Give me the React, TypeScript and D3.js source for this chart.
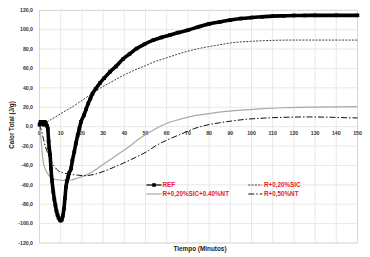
import React from "react";
import * as d3 from "d3";

const W = 370;
const H = 257;

const refX = [0,0.5,1,1.5,2,2.5,3,3.5,3.9,4.3,4.6,5,5.4,5.9,6.5,7,7.5,8,8.5,9,9.5,10,10.5,11,11.5,12,12.5,13,13.5,14,14.9,15.5,16.4,17.2,18,18.8,19.6,21,22,23,24,25,26.5,28.5,30.5,33.3,36,39.5,42.5,45.8,49.5,53.7,57.5,61.6,65.5,70,75,80,85,90,95,100,105,110,115,120,125,130,140,150];
const refY = [2,5,3,5,2,5,3,1,-2,-15,-22,-29,-43,-56,-67,-75,-81,-87,-91,-94,-96,-97,-96,-92,-85,-74,-62,-56,-52,-48,-43,-35,-26,-17,-9,-2,5,12,18,24,29,34,39,45,50,56.7,62,70,75,80.5,85,89.2,92,94.5,97,99.5,103,106,108,110,111.5,112.5,113.3,114,114.3,114.6,114.7,114.8,114.8,114.8];

const sicX = [3.5,6,9,12,14.4,20,27,35,41,50,53.7,60,66.3,75,84,90,100,110,120,150];
const sicY = [5,8,12,16,19,27,37.5,47.5,54.5,63,66.5,71,75.5,80.5,84,86.3,88,89,89.3,89.3];

const sicNtX = [0,0.5,1,1.5,2,3,4,5,7,9,11,13,15,18,22,26,30,34,38,42,47,51,57,62,67,71,80,87,95,104,115,130,150];
const sicNtY = [0,-8,-20,-32,-39,-45,-49,-51.5,-54,-55,-55.5,-55.5,-55,-53,-50,-45,-39,-33,-27,-21,-12.5,-7,0.5,5,8,10.3,13.5,15.5,17,18.3,19.5,20.2,20.6];

const ntX = [0,1,2,3,4,5.4,7,8.6,11,14,18,21,24,27,31,35,39.5,45,50.6,55,60,67.7,73,79,85,91,97,104,115,125,135,145,150];
const ntY = [2,-5,-14,-22,-28,-35,-41,-45,-47.5,-49,-50,-50.5,-50,-48.5,-45.5,-42,-37.7,-32,-25.8,-19.5,-14,-6.8,-2,1.7,4,5.9,7.5,8.6,9.6,10,9.8,9.2,9];

const xTicks = [0,10,20,30,40,50,60,70,80,90,100,110,120,130,140,150];
const yTicks = [-120,-100,-80,-60,-40,-20,0,20,40,60,80,100,120];

const legendNames = ["REF", "R+0,20%SIC+0.40%NT", "R+0,20%SIC", "R+0,50%NT"];

const x = d3.scaleLinear().domain([0, 150]).range([39.5, 357.5]);
const y = d3.scaleLinear().domain([-120, 120]).range([243, 10.3]);

const zip = (xs: number[], ys: number[]) => xs.map((v, i) => [v, ys[i]] as [number, number]);
const line = d3.line<[number, number]>().x(d => x(d[0])).y(d => y(d[1])).curve(d3.curveMonotoneX);

const FONT = "'Liberation Sans', Arial, sans-serif";

export default function App() {
  const ref = zip(refX, refY);
  const sic = zip(sicX, sicY);
  const sicNt = zip(sicNtX, sicNtY);
  const nt = zip(ntX, ntY);
  const fmt = (v: number) => v.toFixed(1).replace(".", ",");
  return (
    <svg width={W} height={H} style={{ position: "absolute", left: 0, top: 0, background: "#fff" }} fontFamily={FONT}>
      <rect x={0} y={0} width={W} height={H} fill="#fff" />
      {xTicks.map(t => (
        <line key={"gx" + t} x1={x(t)} x2={x(t)} y1={y(120)} y2={y(-120)} stroke="#e2e2e2" strokeWidth={0.8} />
      ))}
      {yTicks.map(t => (
        <line key={"gy" + t} x1={x(0)} x2={x(150)} y1={y(t)} y2={y(t)} stroke="#e2e2e2" strokeWidth={0.8} />
      ))}
      <rect x={x(0)} y={y(120)} width={x(150) - x(0)} height={y(-120) - y(120)} fill="none" stroke="#d4d4d4" strokeWidth={0.8} />
      {yTicks.map(t => (
        <text key={"ty" + t} x={33} y={y(t) + 1.8} textAnchor="end" fontSize={5.2} fontWeight="bold" fill="#333">{fmt(t)}</text>
      ))}
      {xTicks.map(t => (
        <text key={"tx" + t} x={x(t)} y={y(0) + 8.5} textAnchor="middle" fontSize={5.2} fontWeight="bold" fill="#333">{t}</text>
      ))}
      <path d={line(sicNt) || ""} fill="none" stroke="#a8a8a8" strokeWidth={1.2} />
      <path d={line(nt) || ""} fill="none" stroke="#111" strokeWidth={1} strokeDasharray="6,2,1.5,2" />
      <path d={line(sic) || ""} fill="none" stroke="#111" strokeWidth={0.8} strokeDasharray="2,1.3" />
      <path d={line(ref) || ""} fill="none" stroke="#000" strokeWidth={3.6} />
      {ref.map((d, i) => (
        <rect key={"m" + i} x={x(d[0]) - 1.8} y={y(d[1]) - 1.8} width={3.6} height={3.6} fill="#000" />
      ))}
      <text transform={`translate(13.5,125) rotate(-90)`} textAnchor="middle" fontSize={6.3} fontWeight="bold" fill="#222">Calor Total (J/g)</text>
      <text x={200} y={251} textAnchor="middle" fontSize={6.4} fontWeight="bold" fill="#222">Tiempo (Minutos)</text>
      {/* legend */}
      <line x1={146.5} x2={161.5} y1={185} y2={185} stroke="#000" strokeWidth={1.2} />
      <rect x={152.2} y={183.2} width={3.6} height={3.6} fill="#000" />
      <text x={162.5} y={187.2} fontSize={6.3} fontWeight="bold" fill="#e8202a">{legendNames[0]}</text>
      <line x1={146.5} x2={161.5} y1={194} y2={194} stroke="#a8a8a8" strokeWidth={1.2} />
      <text x={162.5} y={196.2} fontSize={6.3} fontWeight="bold" fill="#e8202a">{legendNames[1]}</text>
      <line x1={248.3} x2={262.3} y1={185} y2={185} stroke="#111" strokeWidth={0.8} strokeDasharray="2,1.3" />
      <text x={264} y={187.2} fontSize={6.3} fontWeight="bold" fill="#e8202a">{legendNames[2]}</text>
      <line x1={248.3} x2={262.3} y1={194} y2={194} stroke="#111" strokeWidth={1} strokeDasharray="6,2,1.5,2" />
      <text x={264} y={196.2} fontSize={6.3} fontWeight="bold" fill="#e8202a">{legendNames[3]}</text>
    </svg>
  );
}
